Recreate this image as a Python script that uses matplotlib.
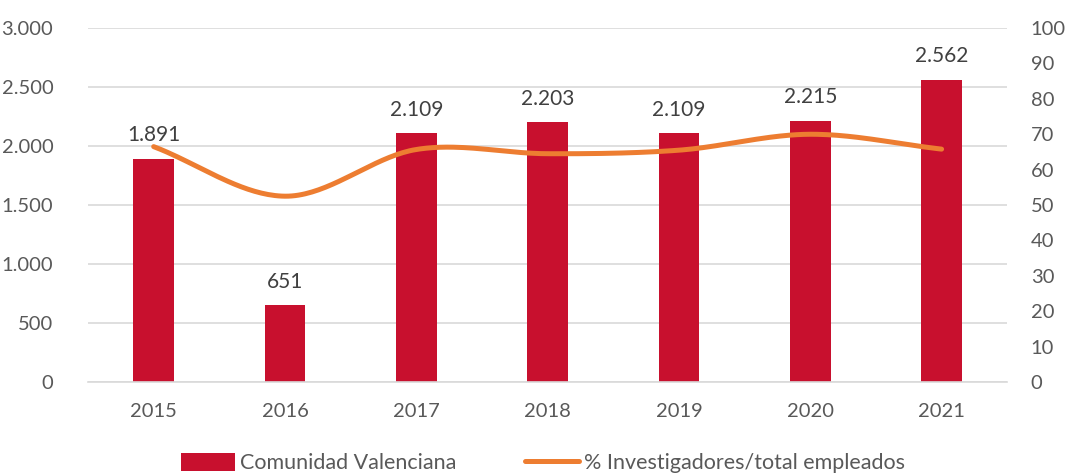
import matplotlib
matplotlib.use("Agg")
import matplotlib.pyplot as plt
import numpy as np
from matplotlib.lines import Line2D
from matplotlib.patches import Patch

years = ["2015", "2016", "2017", "2018", "2019", "2020", "2021"]
researchers = [1891, 651, 2109, 2203, 2109, 2215, 2562]
pct_researchers = [66.5, 52.5, 65.7, 64.5, 65.5, 70.0, 65.8]
bar_labels = ["1.891", "651", "2.109", "2.203", "2.109", "2.215", "2.562"]
left_ticks = [0, 500, 1000, 1500, 2000, 2500, 3000]
left_tick_labels = ["0", "500", "1.000", "1.500", "2.000", "2.500", "3.000"]
right_ticks = [0, 10, 20, 30, 40, 50, 60, 70, 80, 90, 100]

plt.rcParams['font.family'] = ['Lato', 'DejaVu Sans']

def catmull_rom(x, y, n=40):
    x = np.asarray(x, float); y = np.asarray(y, float)
    px = np.concatenate([[2*x[0]-x[1]], x, [2*x[-1]-x[-2]]])
    py = np.concatenate([[2*y[0]-y[1]], y, [2*y[-1]-y[-2]]])
    xs, ys = [], []
    t = np.linspace(0, 1, n)
    for i in range(1, len(px)-2):
        p0, p1, p2, p3 = (np.array([px[j], py[j]]) for j in range(i-1, i+3))
        c1 = p1 + (p2 - p0) / 6
        c2 = p2 - (p3 - p1) / 6
        b = ((1-t)**3)[:, None]*p1 + (3*(1-t)**2*t)[:, None]*c1 + (3*(1-t)*t**2)[:, None]*c2 + (t**3)[:, None]*p2
        xs.extend(b[:, 0]); ys.extend(b[:, 1])
    return np.array(xs), np.array(ys)

fig = plt.figure(figsize=(10.67, 4.76), dpi=100)
ax = fig.add_axes([0.0825, 0.1975, 0.8615, 0.7435])
ax2 = ax.twinx()

xpos = np.arange(len(years))
bar_color = "#C8102E"
line_color = "#ED7D31"
tick_color = "#595959"

ax.set_axisbelow(True)
ax.bar(xpos, researchers, width=0.31, color=bar_color, zorder=2)
for xi, v, lab in zip(xpos, researchers, bar_labels):
    ax.text(xi, v + 115, lab, ha="center", va="bottom", fontsize=15, color="#404040")

ax.set_ylim(0, 3000)
ax.set_xlim(-0.5, len(years) - 0.5)
ax.set_yticks(left_ticks)
ax.set_yticklabels(left_tick_labels)
ax.set_xticks(xpos)
ax.set_xticklabels(years)
ax.grid(axis="y", color="#D9D9D9", linewidth=1.2, zorder=0)
for s in ["top", "right", "left"]:
    ax.spines[s].set_visible(False)
ax.spines["bottom"].set_color("#D9D9D9")
ax.spines["bottom"].set_linewidth(1.2)
ax.tick_params(axis="both", length=0, labelsize=14.5, colors=tick_color)
ax.tick_params(axis="y", pad=25)
ax.tick_params(axis="x", pad=15)

sx, sy = catmull_rom(xpos, pct_researchers)
ax2.plot(sx, sy, color=line_color, linewidth=3.6, solid_capstyle="round", zorder=3)
ax2.set_ylim(0, 100)
ax2.set_yticks(right_ticks)
for s in ["top", "right", "left", "bottom"]:
    ax2.spines[s].set_visible(False)
ax2.tick_params(axis="y", length=0, labelsize=14.5, colors=tick_color, pad=17)

handles = [Patch(facecolor=bar_color, edgecolor="none"),
           Line2D([0], [0], color=line_color, linewidth=3.6, solid_capstyle="round")]
fig.legend(handles, ["Comunidad Valenciana", "% Investigadores/total empleados"],
           loc="lower center", bbox_to_anchor=(0.509, -0.035), ncol=2, frameon=False,
           fontsize=15.5, labelcolor=tick_color, handlelength=2.5, handleheight=0.9,
           columnspacing=3.2, handletextpad=0.25)

fig.savefig("out.png", dpi=100)
